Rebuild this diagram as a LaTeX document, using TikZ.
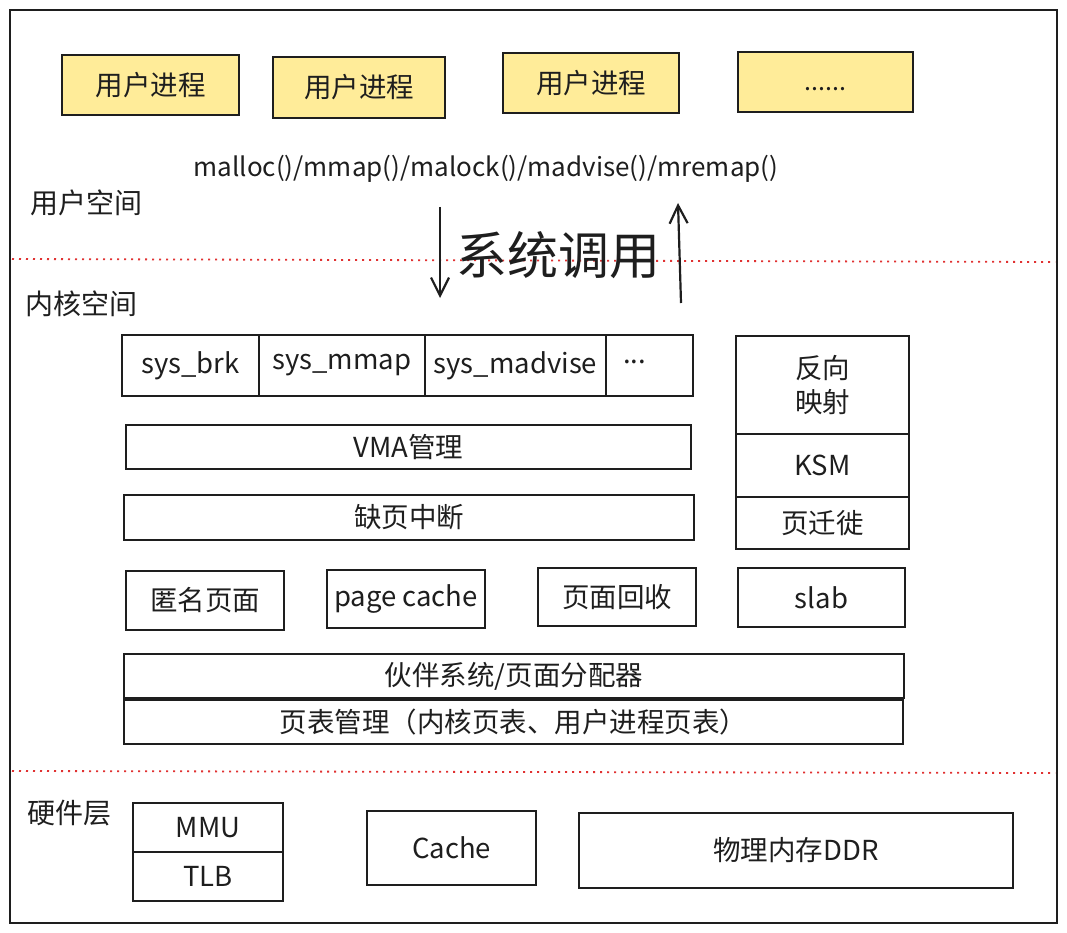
\documentclass[tikz,border=0pt]{standalone}
\usepackage{fontspec}
\setmainfont{Noto Sans CJK SC}
\usetikzlibrary{arrows.meta}
\definecolor{procyellow}{HTML}{FFEC99}
\definecolor{sepred}{HTML}{E03131}
\definecolor{ink}{HTML}{1E1E1E}
\tikzset{
  box/.style={draw=ink, line width=1.8pt, rectangle, inner sep=0pt, align=center, font=\fontsize{27.5}{34}\selectfont, text=ink},
  proc/.style={box, fill=procyellow},
  lbl/.style={anchor=west, inner sep=0pt, font=\fontsize{28}{34}\selectfont, text=ink},
  sep/.style={sepred, line width=1.8pt, dash pattern=on 2pt off 5pt},
  callarrow/.style={ink, line width=2.2pt, -{Straight Barb[length=18pt,width=18pt,line width=2.2pt]}},
}
\newcommand{\bx}[6]{% style, name, x1, y1, x2, y2, then text
  \node[#1, minimum width={#5-#3}, minimum height={#6-#4}] (#2) at ({(#3+#5)/2},{(#4+#6)/2})}
\begin{document}
\begin{tikzpicture}[x=1pt,y=-1pt]
\useasboundingbox (0,0) rectangle (1067,933);
\draw[ink, line width=2pt] (10,10) rectangle (1057,923);

% user processes
\bx{proc}{p1}{62}{55}{239}{115} {用户进程};
\bx{proc}{p2}{273}{57}{445}{118} {用户进程};
\bx{proc}{p3}{503}{53}{679}{113} {用户进程};
\bx{proc}{p4}{738}{52}{913}{112} {\fontsize{25}{30}\selectfont\vphantom{用}......};

\node[inner sep=0pt, font=\fontsize{26}{30}\selectfont, text=ink] (api) at (486,169) {malloc()/mmap()/malock()/madvise()/mremap()};

\node[lbl] (us) at (30,203) {用户空间};
\node[lbl] (ks) at (25,304) {内核空间};
\node[lbl] (hw) at (27,813) {硬件层};

% separators
\coordinate (s1a) at (12,259);
\coordinate (s1b) at (1055,262);
\coordinate (s2a) at (12,771);
\coordinate (s2b) at (1055,773);
\draw[sep] (s1a) -- (s1b);
\draw[sep] (s2a) -- (s2b);

% system call arrows
\coordinate (dnA) at (440,207);
\coordinate (dnB) at (440,298);
\coordinate (upA) at (681,303);
\coordinate (upB) at (678,203);
\draw[callarrow] (dnA) -- (dnB);
\draw[callarrow] (upA) -- (upB);
\node[inner sep=0pt, font=\fontsize{51}{60}\selectfont, text=ink] (sc) at (558,255) {系统调用};

% syscall row
\bx{box}{brk}{122}{335}{259}{396} {sys\_brk};
\bx{box}{mmap}{259}{335}{425}{396} {\raisebox{2pt}{sys\_mmap}};
\bx{box}{madv}{425}{335}{606}{396} {sys\_madvise};
\bx{box}{more}{606}{335}{693}{396} {\hspace*{-30pt}\raisebox{8pt}{...}};

\bx{box}{vma}{126}{425}{691}{469} {VMA管理};
\bx{box}{fault}{124}{495}{694}{540} {缺页中断};

% right column
\bx{box}{rmap}{736}{336}{909}{434} {反向\\映射};
\bx{box}{ksm}{736}{434}{909}{497} {KSM};
\bx{box}{migr}{736}{497}{909}{549} {页迁徙};

\bx{box}{anon}{126}{571}{284}{630} {匿名页面};
\bx{box}{pcache}{327}{570}{485}{628} {page cache};
\bx{box}{reclaim}{538}{568}{696}{626} {页面回收};
\bx{box}{slab}{738}{568}{905}{627} {slab};

\bx{box}{buddy}{124}{654}{904}{698} {伙伴系统/页面分配器};
\bx{box}{ptm}{124}{700}{903}{744} {页表管理（内核页表、用户进程页表）};

% hardware
\bx{box}{mmu}{133}{803}{283}{852} {MMU};
\bx{box}{tlb}{133}{852}{283}{901} {TLB};
\bx{box}{cache}{367}{811}{536}{885} {Cache};
\bx{box}{ddr}{579}{813}{1013}{888} {物理内存DDR};
\end{tikzpicture}
\end{document}
